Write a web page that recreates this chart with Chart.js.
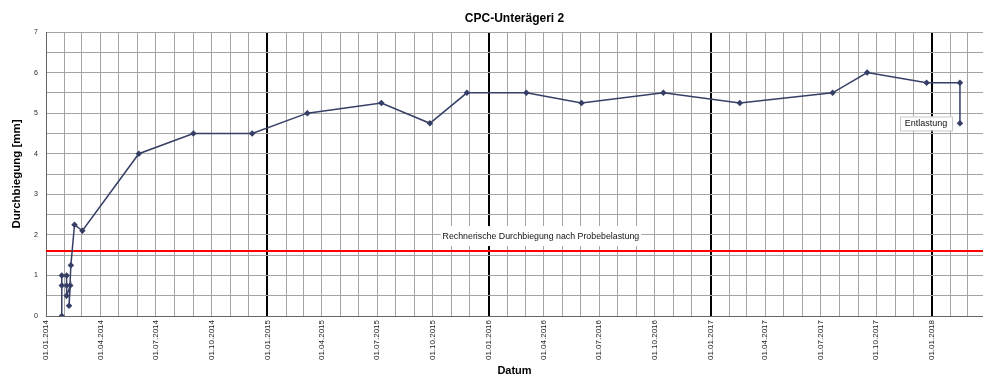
<!DOCTYPE html>
<html>
<head>
<meta charset="utf-8">
<script src="https://cdn.jsdelivr.net/npm/chart.js@4.4.1/dist/chart.umd.min.js"></script>
<style>
  html, body { margin: 0; padding: 0; background: #fff; }
  canvas { display: block; }
</style>
</head>
<body>
<canvas id="chart" width="983" height="376"></canvas>
<script>
// measurement dates and deflection [mm]
const dates = [
    '2014-01-27', '2014-01-27', '2014-01-27', '2014-02-04', '2014-02-04', '2014-02-04',
    '2014-02-10', '2014-02-08', '2014-02-11', '2014-02-17', '2014-03-02',
    '2014-06-03', '2014-09-01', '2014-12-07', '2015-03-08', '2015-07-08', '2015-09-26',
    '2015-11-26', '2016-03-03', '2016-06-02', '2016-10-15', '2017-02-18', '2017-07-21',
    '2017-09-16', '2017-12-23', '2018-02-16', '2018-02-16'
];
const deflection = [
    0, 0.75, 1.0, 1.0, 0.75, 0.5,
    0.75, 0.25, 1.25, 2.25, 2.1,
    4.0, 4.5, 4.5, 5.0, 5.25, 4.75,
    5.5, 5.5, 5.25, 5.5, 5.25, 5.5,
    6.0, 5.75, 5.75, 4.75
];
const calcDeflection = 1.6;

// x axis tick labels (quarterly)
const tickLabels = [
    '01.01.2014', '01.04.2014', '01.07.2014', '01.10.2014',
    '01.01.2015', '01.04.2015', '01.07.2015', '01.10.2015',
    '01.01.2016', '01.04.2016', '01.07.2016', '01.10.2016',
    '01.01.2017', '01.04.2017', '01.07.2017', '01.10.2017',
    '01.01.2018'
];
const yTicks = [0, 1, 2, 3, 4, 5, 6, 7];

const START = Date.UTC(2014, 0, 1);
const dayNum = (iso) => {
    const [y, m, d] = iso.split('-').map(Number);
    return Math.round((Date.UTC(y, m - 1, d) - START) / 864e5);
};
const fromLabel = (s) => {
    const [d, m, y] = s.split('.');
    return dayNum(y + '-' + m + '-' + d);
};
const X_MAX = dayNum('2018-03-26');

// one gridline per month, labels only on quarters
const labelAt = {};
tickLabels.forEach(s => { labelAt[fromLabel(s)] = s; });
const monthTicks = [];
for (let y = 2014; y <= 2018; y++) {
    for (let m = 0; m < 12; m++) {
        const v = Math.round((Date.UTC(y, m, 1) - START) / 864e5);
        if (v <= X_MAX) monthTicks.push(v);
    }
}
const isJan = (v) => v > 0 && new Date(START + v * 864e5).getUTCMonth() === 0;

const points = dates.map((d, i) => ({ x: dayNum(d), y: deflection[i] }));

// text boxes on the plot
const notes = {
    id: 'notes',
    afterDatasetsDraw(chart) {
        const { ctx, scales: { x, y } } = chart;
        ctx.save();
        ctx.textAlign = 'center';
        ctx.textBaseline = 'middle';

        ctx.font = '8.8px "Liberation Sans", Arial, sans-serif';
        let cx = x.getPixelForValue(dayNum('2016-03-27'));
        let cy = y.getPixelForValue(1.97);
        let text = 'Rechnerische Durchbiegung nach Probebelastung';
        let w = ctx.measureText(text).width + 4;
        ctx.fillStyle = '#fff';
        ctx.fillRect(cx - w / 2, cy - 10, w, 20);
        ctx.fillStyle = '#111';
        ctx.fillText(text, cx, cy);

        ctx.font = '9px "Liberation Sans", Arial, sans-serif';
        cx = x.getPixelForValue(dayNum('2017-12-22'));
        cy = y.getPixelForValue(4.745);
        ctx.fillStyle = '#fff';
        ctx.fillRect(cx - 26, cy - 7, 52, 14);
        ctx.strokeStyle = '#c8c8c8';
        ctx.lineWidth = 1;
        ctx.strokeRect(cx - 26 + 0.5, cy - 7 + 0.5, 52, 14);
        ctx.fillStyle = '#111';
        ctx.fillText('Entlastung', cx, cy);
        ctx.restore();
    }
};

Chart.defaults.font.family = '"Liberation Sans", Arial, sans-serif';
Chart.defaults.color = '#222';

new Chart(document.getElementById('chart'), {
    type: 'scatter',
    data: {
        datasets: [{
            label: 'Durchbiegung',
            data: points,
            showLine: true,
            borderColor: '#363f66',
            backgroundColor: '#363f66',
            borderWidth: 1.5,
            pointStyle: 'rectRot',
            pointRadius: 2.2,
            order: 1
        }, {
            label: 'Rechnerische Durchbiegung',
            data: [{ x: 0, y: calcDeflection }, { x: X_MAX, y: calcDeflection }],
            showLine: true,
            borderColor: '#ff0000',
            borderWidth: 2,
            pointRadius: 0,
            order: 2
        }]
    },
    options: {
        responsive: false,
        animation: false,
        layout: { padding: 0, autoPadding: false },
        plugins: {
            legend: { display: false },
            tooltip: { enabled: false },
            title: {
                display: true,
                text: 'CPC-Unterägeri 2',
                fullSize: false,
                color: '#000',
                font: { size: 12, weight: 'bold' },
                padding: { top: 11, bottom: 6.6 }
            }
        },
        scales: {
            x: {
                type: 'linear',
                min: 0,
                max: X_MAX,
                afterBuildTicks: (s) => { s.ticks = monthTicks.map(v => ({ value: v })); },
                afterFit: (s) => { s.height = 60; s.paddingLeft = 0; s.paddingRight = 0; },
                ticks: {
                    autoSkip: false,
                    minRotation: 90,
                    maxRotation: 90,
                    padding: 4,
                    font: { size: 8 },
                    callback: (v) => labelAt[v] || ''
                },
                grid: {
                    drawTicks: false,
                    color: (c) => isJan(c.tick.value) ? '#000' : '#a4a4a4',
                    lineWidth: (c) => isJan(c.tick.value) ? 2 : 1
                },
                border: { color: '#666' },
                title: {
                    display: true,
                    text: 'Datum',
                    color: '#000',
                    font: { size: 11, weight: 'bold', lineHeight: 1 },
                    padding: 0
                }
            },
            y: {
                min: 0,
                max: 7,
                afterFit: (s) => { s.width = 46; s.paddingTop = 0; s.paddingBottom = 0; },
                ticks: {
                    stepSize: 0.5,
                    padding: 8,
                    font: { size: 7 },
                    callback: (v) => yTicks.includes(v) ? String(v) : ''
                },
                grid: { drawTicks: false, color: '#a4a4a4' },
                border: { color: '#666' },
                title: {
                    display: true,
                    text: 'Durchbiegung [mm]',
                    color: '#000',
                    font: { size: 11.5, weight: 'bold' },
                    padding: { top: 10, bottom: 0 }
                }
            }
        }
    },
    plugins: [notes]
});
</script>
</body>
</html>
